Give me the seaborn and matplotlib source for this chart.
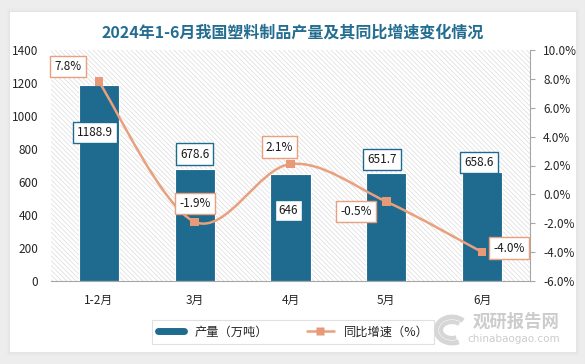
import numpy as np
import matplotlib
matplotlib.use('Agg')
import matplotlib.pyplot as plt
from matplotlib.path import Path
from matplotlib.patches import PathPatch, Rectangle, Arc
from matplotlib.lines import Line2D
from matplotlib.transforms import IdentityTransform
import seaborn as sns

months = ['1-2月', '3月', '4月', '5月', '6月']
output = [1188.9, 678.6, 646, 651.7, 658.6]
growth = [7.8, -1.9, 2.1, -0.5, -4.0]
output_labels = ['1188.9', '678.6', '646', '651.7', '658.6']
growth_labels = ['7.8%', '-1.9%', '2.1%', '-0.5%', '-4.0%']

title = '2024年1-6月我国塑料制品产量及其同比增速变化情况'

BAR = '#1f6a8f'
LINE = '#e8a07e'
GRID_GREY = '#a6a6a6'


def smooth_path(xs, ys):
    # catmull-rom style smoothing like the office "smoothed line"
    pts = np.column_stack([xs, ys]).astype(float)
    n = len(pts)
    verts = [pts[0]]
    codes = [Path.MOVETO]
    for i in range(n - 1):
        p0 = pts[max(i - 1, 0)]
        p1 = pts[i]
        p2 = pts[i + 1]
        p3 = pts[min(i + 2, n - 1)]
        verts += [p1 + (p2 - p0) / 6, p2 - (p3 - p1) / 6, p2]
        codes += [Path.CURVE4] * 3
    return Path(verts, codes)


sns.set_style('white')
plt.rcParams['font.family'] = ['Noto Sans CJK SC', 'DejaVu Sans']
plt.rcParams['hatch.linewidth'] = 0.5

fig = plt.figure(figsize=(5.85, 3.64), dpi=100, facecolor='#ededed')
# white card with a soft shadow
for k, a in enumerate([0.04, 0.06, 0.08]):
    fig.add_artist(Rectangle((6 + k * 1.5, 8 + k * 1.5), 574 - k * 3, 348 - k * 3,
                             transform=IdentityTransform(), facecolor='#bbbbbb',
                             alpha=a, edgecolor='none', zorder=-3))
fig.add_artist(Rectangle((10, 364 - 352), 566, 340, transform=IdentityTransform(),
                         facecolor='white', edgecolor='none', zorder=-2))

ax = fig.add_axes([51 / 585, 1 - 281 / 364, (530 - 51) / 585, (281 - 50) / 364])
ax.set_facecolor('none')
ax.add_patch(Rectangle((0, 0), 1, 1, transform=ax.transAxes, facecolor='white',
                       edgecolor='#dcdcdc', hatch='\\' * 7, linewidth=0, zorder=0))

sns.barplot(x=months, y=output, ax=ax, color=BAR, width=0.42, saturation=1,
            edgecolor='white', linewidth=0.8, zorder=2)
ax.set_ylim(0, 1400)
ax.set_yticks(range(0, 1401, 200))
ax.set_xlim(-0.5, 4.5)
ax.set_xlabel('')
ax.set_ylabel('')
for s in ['top', 'left', 'right']:
    ax.spines[s].set_visible(False)
ax.spines['bottom'].set_color(GRID_GREY)
ax.tick_params(axis='x', length=0, pad=9, labelsize=8.5, colors='#262626')
ax.tick_params(axis='y', length=0, pad=9, labelsize=8.5, colors='#262626')

ax2 = ax.twinx()
ax2.set_ylim(-6, 10)
ax2.set_yticks(range(-6, 11, 2))
ax2.set_yticklabels(['%.1f%%' % t for t in range(-6, 11, 2)])
for s in ['top', 'left', 'bottom']:
    ax2.spines[s].set_visible(False)
ax2.spines['right'].set_color(GRID_GREY)
ax2.tick_params(axis='y', length=3.5, width=0.8, pad=6, labelsize=8.5,
                colors=GRID_GREY, labelcolor='#262626')

x_pos = np.arange(len(months))
ax2.add_patch(PathPatch(smooth_path(x_pos, growth), facecolor='none',
                        edgecolor=LINE, linewidth=1.8, zorder=3))
sns.scatterplot(x=x_pos, y=growth, ax=ax2, marker='s', s=38, color='#e89a78',
                edgecolor='none', zorder=4)

bar_offsets = [(-4, -48), (0, 15), (-2, -36), (-4, 14), (-3, 10)]
line_offsets = [(-31, 15), (0, 18), (-11, 17), (-30, -10), (27, 4)]

for i, (v, lab) in enumerate(zip(output, output_labels)):
    ax2.annotate(lab, xy=(i, v), xycoords=ax.transData, xytext=bar_offsets[i],
                 textcoords='offset pixels', ha='center', va='center', fontsize=8.5,
                 color='#1a1a1a', zorder=6,
                 bbox=dict(boxstyle='square,pad=0.35', facecolor='white',
                           edgecolor=BAR, linewidth=1))
for i, (v, lab) in enumerate(zip(growth, growth_labels)):
    ax2.annotate(lab, xy=(i, v), xytext=line_offsets[i], textcoords='offset pixels',
                 ha='center', va='center', fontsize=8.5, color='#1a1a1a', zorder=6,
                 bbox=dict(boxstyle='square,pad=0.35', facecolor='white',
                           edgecolor=LINE, linewidth=1))

fig.text(0.5, 1 - 33 / 364, title, ha='center', va='center', fontsize=11.5,
         fontweight='bold', color='#236d91')

handles = [Line2D([], [], color=BAR, linewidth=5),
           Line2D([], [], color=LINE, linewidth=1.8, marker='s', markersize=6,
                  markerfacecolor='#e89a78', markeredgecolor='none')]
leg = fig.legend(handles, ['产量（万吨）', '同比增速（%）'], loc='center',
                 bbox_to_anchor=(293 / 585, 1 - 332 / 364), ncol=2, frameon=True,
                 fancybox=False, edgecolor='#d9d9d9', fontsize=8.8,
                 handlelength=2.2, columnspacing=3.2, borderpad=0.45)
leg.get_frame().set_linewidth(0.8)

# watermark
for r, lw in [(13, 3.5), (8, 3)]:
    fig.add_artist(Arc((452, 364 - 330), 2 * r + 6, 2 * r, theta1=40, theta2=300,
                       transform=IdentityTransform(), color='#d6d6d6', linewidth=lw))
fig.text(516 / 585, 1 - 322 / 364, '观研报告网', ha='center', va='center',
         fontsize=12.5, fontweight='bold', color='#cccccc')
fig.text(514 / 585, 1 - 339 / 364, 'chinabaogao.com', ha='center', va='center',
         fontsize=7.5, color='#cccccc', family='DejaVu Sans')

fig.savefig('out.png', dpi=100, facecolor=fig.get_facecolor())
